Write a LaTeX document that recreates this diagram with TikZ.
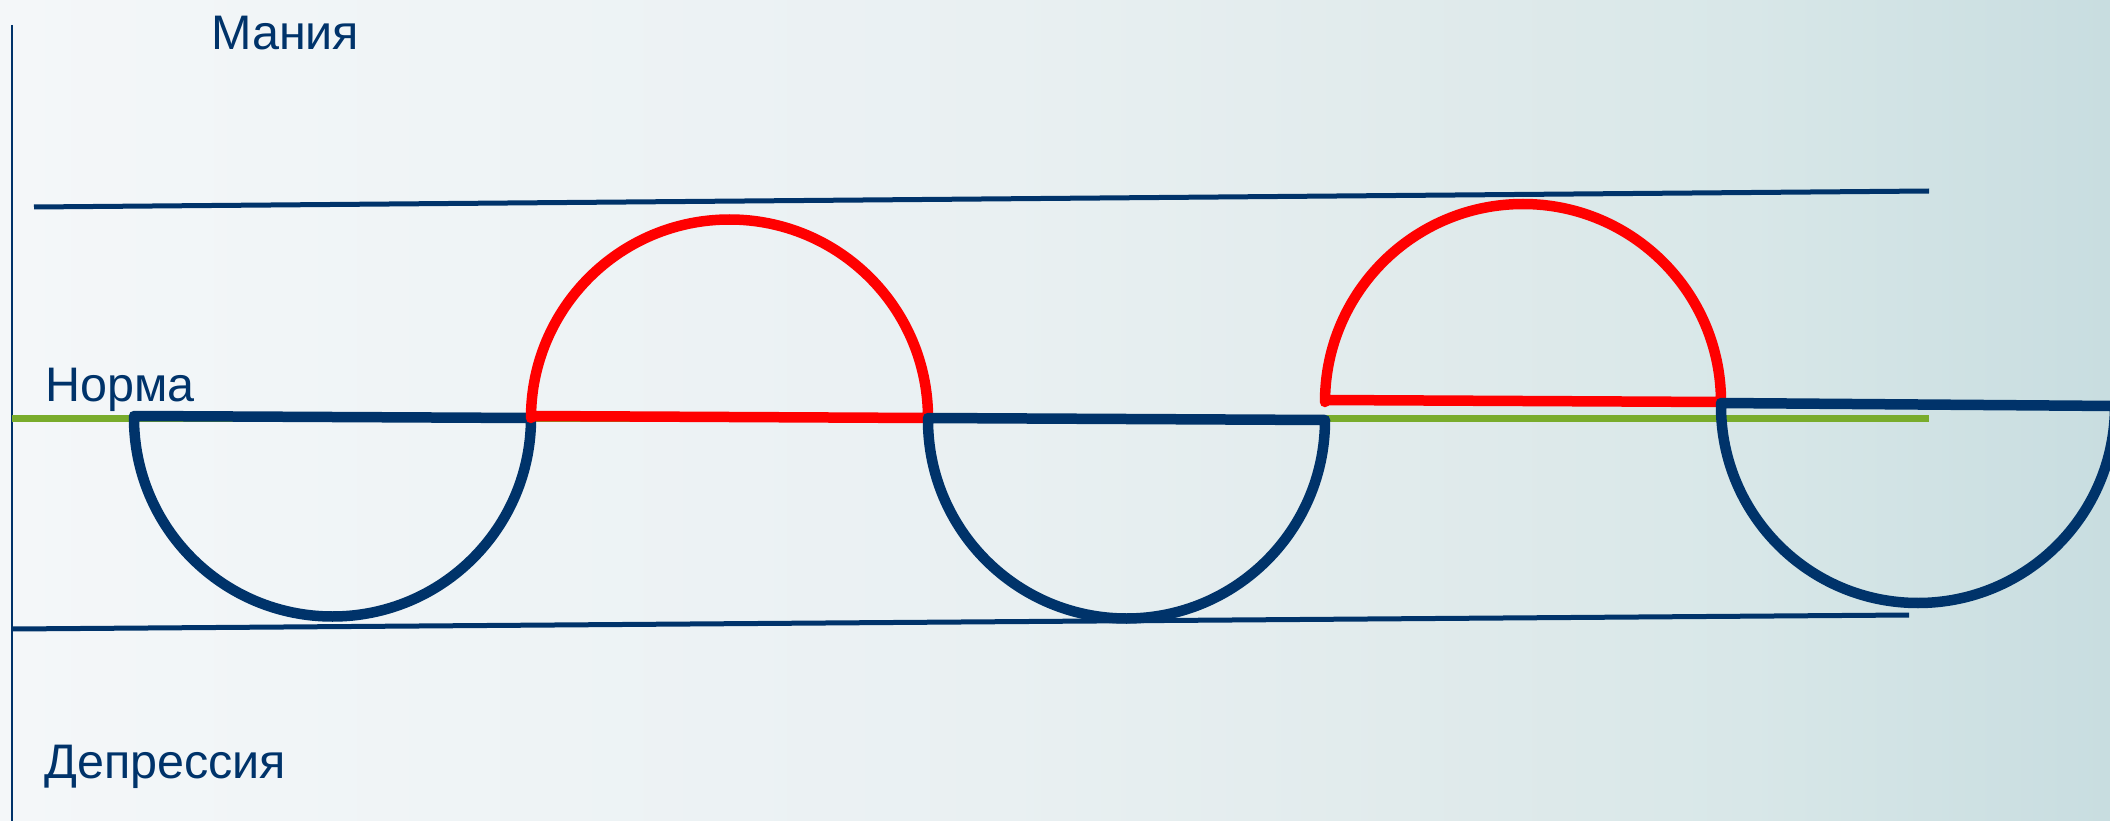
\documentclass[tikz,border=0pt]{standalone}
\usepackage{fontspec}
\setmainfont{Liberation Sans}
\definecolor{navy}{HTML}{00336A}
\definecolor{normgreen}{HTML}{79AC2C}
\definecolor{bgA}{HTML}{F4F7F9}
\definecolor{bgB}{HTML}{E9F0F2}
\definecolor{bgC}{HTML}{E1EBEC}
\definecolor{bgD}{HTML}{D8E7E8}
\definecolor{bgE}{HTML}{C8DDE0}
\tikzset{
  thinline/.style={draw=navy, line width=5},
  axisline/.style={draw=navy, line width=2.5},
  bluewave/.style={draw=navy, line width=10.5, line join=round, line cap=round},
  redwave/.style={draw=red, line width=10.5, line join=round, line cap=round},
  label/.style={text=navy, anchor=base west, inner sep=0pt, font=\fontsize{48.5}{58}\selectfont}
}
\begin{document}
\begin{tikzpicture}[x=1pt, y=-1pt]
\useasboundingbox (0,0) rectangle (2110,821);
\clip (0,0) rectangle (2110,821);
\shade[left color=bgA, right color=bgB] (-1,0) rectangle (1001,821);
\shade[left color=bgB, right color=bgC] (1000,0) rectangle (1401,821);
\shade[left color=bgC, right color=bgD] (1400,0) rectangle (1751,821);
\shade[left color=bgD, right color=bgE] (1750,0) rectangle (2111,821);

% axis and level lines
\coordinate (axT) at (12,25);
\coordinate (axB) at (12,821);
\draw[axisline] (axT) -- (axB);
\coordinate (topL) at (34,207);
\coordinate (topR) at (1929,191);
\draw[thinline] (topL) -- (topR);
\coordinate (botL) at (12,629);
\coordinate (botR) at (1909,615);
\draw[thinline] (botL) -- (botR);
\coordinate (gL) at (12,418);
\coordinate (gR) at (1929,418);
\draw[draw=normgreen, line width=7] (gL) -- (gR);

% labels
\node[label] (mania) at (211,50) {Мания};
\node[label] (norma) at (45,401) {Норма};
\node[label] (depr) at (44,778) {Депрессия};

% waves
\coordinate (b1L) at (134,416);
\coordinate (b1R) at (531,418);
\draw[bluewave] (b1L) -- (b1R) arc[start angle=0, end angle=180, radius=198.5] -- cycle;

\coordinate (r1L) at (531,416);
\coordinate (r1R) at (928,418);
\draw[redwave] (r1L) -- (r1R) arc[start angle=0, end angle=-180, radius=198.5] -- cycle;

\coordinate (b2L) at (928,418);
\coordinate (b2R) at (1325,420);
\draw[bluewave] (b2L) -- (b2R) arc[start angle=0, end angle=180, radius=198.5] -- cycle;

\coordinate (r2L) at (1325,400);
\coordinate (r2R) at (1721,402);
\draw[redwave] (r2L) -- (r2R) arc[start angle=0, end angle=-180, radius=198] -- cycle;

\coordinate (b3L) at (1721,403);
\coordinate (b3R) at (2115,406);
\draw[bluewave] (b3L) -- (b3R) arc[start angle=0, end angle=180, radius=197] -- cycle;
\end{tikzpicture}
\end{document}
